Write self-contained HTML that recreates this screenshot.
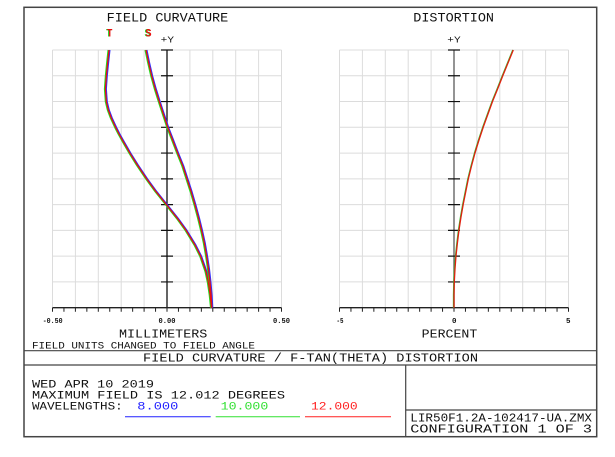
<!DOCTYPE html>
<html><head><meta charset="utf-8"><style>
html,body{margin:0;padding:0;background:#fff;}
svg{display:block;}
text{font-family:"Liberation Mono","DejaVu Sans Mono",monospace;fill:#111;}
</style></head><body>
<svg width="615" height="457" viewBox="0 0 615 457" xmlns="http://www.w3.org/2000/svg">
<rect x="0" y="0" width="615" height="457" fill="#fff"/>
<!-- outer frame -->
<rect x="24" y="7.3" width="572.7" height="429.4" fill="none" stroke="#444" stroke-width="1.5"/>
<line x1="24" y1="350.7" x2="596.7" y2="350.7" stroke="#444" stroke-width="1.2"/>
<line x1="24" y1="365" x2="596.7" y2="365" stroke="#444" stroke-width="1.2"/>
<line x1="405.7" y1="365" x2="405.7" y2="436.7" stroke="#444" stroke-width="1.2"/>
<line x1="405.7" y1="410" x2="596.7" y2="410" stroke="#444" stroke-width="1.2"/>

<!-- left grid -->
<path d="M52.5 50V307.7M75.4 50V307.7M98.3 50V307.7M121.2 50V307.7M144.1 50V307.7M189.9 50V307.7M212.8 50V307.7M235.7 50V307.7M258.6 50V307.7M281.5 50V307.7
M52.5 50H281.5M52.5 75.77H281.5M52.5 101.54H281.5M52.5 127.31H281.5M52.5 153.08H281.5M52.5 178.85H281.5M52.5 204.62H281.5M52.5 230.39H281.5M52.5 256.16H281.5M52.5 281.93H281.5" stroke="#dcdcdc" stroke-width="1" fill="none"/>
<!-- right grid -->
<path d="M339.5 50V307.7M362.4 50V307.7M385.3 50V307.7M408.2 50V307.7M431.1 50V307.7M476.9 50V307.7M499.8 50V307.7M522.7 50V307.7M545.6 50V307.7M568.5 50V307.7
M339.5 50H568.5M339.5 75.77H568.5M339.5 101.54H568.5M339.5 127.31H568.5M339.5 153.08H568.5M339.5 178.85H568.5M339.5 204.62H568.5M339.5 230.39H568.5M339.5 256.16H568.5M339.5 281.93H568.5" stroke="#dcdcdc" stroke-width="1" fill="none"/>

<!-- left axes -->
<line x1="167" y1="50" x2="167" y2="307.7" stroke="#111" stroke-width="1.3"/>
<path d="M161 50H173M161 75.77H173M161 101.54H173M161 127.31H173M161 153.08H173M161 178.85H173M161 204.62H173M161 230.39H173M161 256.16H173M161 281.93H173" stroke="#111" stroke-width="1.2"/>
<line x1="52.5" y1="307.7" x2="281.5" y2="307.7" stroke="#222" stroke-width="1.3"/>
<path d="M52.5 307.7v4M63.95 307.7v4M75.4 307.7v4M86.85 307.7v4M98.3 307.7v4M109.75 307.7v4M121.2 307.7v4M132.65 307.7v4M144.1 307.7v4M155.55 307.7v4M167 307.7v4M178.45 307.7v4M189.9 307.7v4M201.35 307.7v4M212.8 307.7v4M224.25 307.7v4M235.7 307.7v4M247.15 307.7v4M258.6 307.7v4M270.05 307.7v4M281.5 307.7v4" stroke="#222" stroke-width="1"/>

<!-- right axes -->
<line x1="454" y1="50" x2="454" y2="307.7" stroke="#666" stroke-width="1.4"/>
<path d="M448 50H460M448 75.77H460M448 101.54H460M448 127.31H460M448 153.08H460M448 178.85H460M448 204.62H460M448 230.39H460M448 256.16H460M448 281.93H460" stroke="#111" stroke-width="1.2"/>
<line x1="339.5" y1="307.7" x2="568.5" y2="307.7" stroke="#222" stroke-width="1.3"/>
<path d="M339.5 307.7v4M350.95 307.7v4M362.4 307.7v4M373.85 307.7v4M385.3 307.7v4M396.75 307.7v4M408.2 307.7v4M419.65 307.7v4M431.1 307.7v4M442.55 307.7v4M454 307.7v4M465.45 307.7v4M476.9 307.7v4M488.35 307.7v4M499.8 307.7v4M511.25 307.7v4M522.7 307.7v4M534.15 307.7v4M545.6 307.7v4M557.05 307.7v4M568.5 307.7v4" stroke="#222" stroke-width="1"/>

<!-- field curvature curves -->
<g fill="none" stroke-width="1.25" stroke-linejoin="round">
 <g transform="translate(0.9,0)" stroke="#3030ff">
  <path d="M109 50L107.6 63L106.3 76L105.4 89L106.3 101.7L108.3 110L111.3 118L115.6 127.3L119 134L123.3 141.7L130 153.3L137.3 165L146.7 179L156 191.7L166.7 205L177.3 218.3L186 230.3L195 245L200.7 256.3L206 271.7L208.3 282.3L210.2 295L211.5 307.7"/>
  <path d="M146 50L148.7 63L151.7 76L155.3 89L159.3 101.7L163.3 114L167.7 127.3L172.6 140L177.7 153.3L182.8 166L187 179L191.2 192L195 205L198.5 218L201.5 230.3L204.3 243L206.6 256.3L208.5 269L210 282.3L211.1 295L211.8 307.7"/>
 </g>
 <g transform="translate(-0.9,0)" stroke="#20e020">
  <path d="M109 50L107.6 63L106.3 76L105.4 89L106.3 101.7L108.3 110L111.3 118L115.6 127.3L119 134L123.3 141.7L130 153.3L137.3 165L146.7 179L156 191.7L166.7 205L177.3 218.3L186 230.3L195 245L200.7 256.3L206 271.7L208.3 282.3L210.2 295L211.5 307.7"/>
  <path d="M146 50L148.7 63L151.7 76L155.3 89L159.3 101.7L163.3 114L167.7 127.3L172.6 140L177.7 153.3L182.8 166L187 179L191.2 192L195 205L198.5 218L201.5 230.3L204.3 243L206.6 256.3L208.5 269L210 282.3L211.1 295L211.8 307.7"/>
 </g>
 <g stroke="#e81010">
  <path d="M109 50L107.6 63L106.3 76L105.4 89L106.3 101.7L108.3 110L111.3 118L115.6 127.3L119 134L123.3 141.7L130 153.3L137.3 165L146.7 179L156 191.7L166.7 205L177.3 218.3L186 230.3L195 245L200.7 256.3L206 271.7L208.3 282.3L210.2 295L211.5 307.7"/>
  <path d="M146 50L148.7 63L151.7 76L155.3 89L159.3 101.7L163.3 114L167.7 127.3L172.6 140L177.7 153.3L182.8 166L187 179L191.2 192L195 205L198.5 218L201.5 230.3L204.3 243L206.6 256.3L208.5 269L210 282.3L211.1 295L211.8 307.7"/>
 </g>
</g>

<!-- distortion curve -->
<g fill="none" stroke-width="1.3" stroke-linejoin="round">
 <path transform="translate(-0.5,0)" stroke="#30c030" d="M513.3 50L508 63L502.7 76L497.6 89L492.7 101L488 114L483.3 127L479 140L475 153L471.5 166L468.3 179L465.7 192L463.3 204L461 217L459 230L457.4 243L456 256L455 269L454.3 282L454 295L454 307.7"/>
 <path stroke="#e02010" d="M513.3 50L508 63L502.7 76L497.6 89L492.7 101L488 114L483.3 127L479 140L475 153L471.5 166L468.3 179L465.7 192L463.3 204L461 217L459 230L457.4 243L456 256L455 269L454.3 282L454 295L454 307.7"/>
</g>

<!-- titles -->
<text x="106.7" y="21.5" font-size="12.5" textLength="121.6" lengthAdjust="spacingAndGlyphs">FIELD CURVATURE</text>
<text x="413.3" y="21.5" font-size="12.5" textLength="80.7" lengthAdjust="spacingAndGlyphs">DISTORTION</text>
<text x="106" y="36.7" font-size="11" font-weight="bold" textLength="5.5" lengthAdjust="spacingAndGlyphs" style="fill:#20d020">T</text>
<text x="107" y="36.7" font-size="11" font-weight="bold" textLength="5.5" lengthAdjust="spacingAndGlyphs" style="fill:#e81010">T</text>
<text x="144.5" y="36.7" font-size="11" font-weight="bold" textLength="6" lengthAdjust="spacingAndGlyphs" style="fill:#20d020">S</text>
<text x="145.5" y="36.7" font-size="11" font-weight="bold" textLength="6" lengthAdjust="spacingAndGlyphs" style="fill:#e81010">S</text>
<text x="160.7" y="42.7" font-size="9.5" textLength="13.3" lengthAdjust="spacingAndGlyphs">+Y</text>
<text x="447.3" y="42.7" font-size="9.5" textLength="13.3" lengthAdjust="spacingAndGlyphs">+Y</text>

<!-- tick labels -->
<text x="42.7" y="323" font-size="7" font-weight="bold" textLength="20" lengthAdjust="spacingAndGlyphs">-0.50</text>
<text x="158.5" y="323" font-size="7" font-weight="bold" textLength="17" lengthAdjust="spacingAndGlyphs">0.00</text>
<text x="273" y="323" font-size="7" font-weight="bold" textLength="17" lengthAdjust="spacingAndGlyphs">0.50</text>
<text x="336.5" y="323" font-size="7" font-weight="bold" textLength="7" lengthAdjust="spacingAndGlyphs">-5</text>
<text x="452" y="323" font-size="7" font-weight="bold" textLength="4.5" lengthAdjust="spacingAndGlyphs">0</text>
<text x="566" y="323" font-size="7" font-weight="bold" textLength="4.5" lengthAdjust="spacingAndGlyphs">5</text>

<text x="119" y="337.7" font-size="11.5" textLength="88.3" lengthAdjust="spacingAndGlyphs">MILLIMETERS</text>
<text x="421.7" y="337.7" font-size="11.5" textLength="55.6" lengthAdjust="spacingAndGlyphs">PERCENT</text>
<text x="32" y="348.3" font-size="10" textLength="223" lengthAdjust="spacingAndGlyphs">FIELD UNITS CHANGED TO FIELD ANGLE</text>

<text x="143" y="361.7" font-size="11.5" textLength="335" lengthAdjust="spacingAndGlyphs">FIELD CURVATURE / F-TAN(THETA) DISTORTION</text>

<text x="32" y="387.7" font-size="11" textLength="122" lengthAdjust="spacingAndGlyphs">WED APR 10 2019</text>
<text x="32" y="398.3" font-size="11" textLength="253" lengthAdjust="spacingAndGlyphs">MAXIMUM FIELD IS 12.012 DEGREES</text>
<text x="32" y="409.3" font-size="11" textLength="90.7" lengthAdjust="spacingAndGlyphs">WAVELENGTHS:</text>
<text x="137.3" y="409.3" font-size="11" textLength="41" lengthAdjust="spacingAndGlyphs" style="fill:#2020ff">8.000</text>
<text x="220.7" y="409.3" font-size="11" textLength="47.6" lengthAdjust="spacingAndGlyphs" style="fill:#30e030">10.000</text>
<text x="311" y="409.3" font-size="11" textLength="46.7" lengthAdjust="spacingAndGlyphs" style="fill:#ff2020">12.000</text>
<line x1="125" y1="416.7" x2="210.7" y2="416.7" stroke="#2020ff" stroke-width="1"/>
<line x1="215.7" y1="416.7" x2="300" y2="416.7" stroke="#30e030" stroke-width="1"/>
<line x1="305" y1="416.7" x2="391" y2="416.7" stroke="#ff2020" stroke-width="1"/>

<text x="410.3" y="421.7" font-size="11.5" textLength="181.7" lengthAdjust="spacingAndGlyphs">LIR50F1.2A-102417-UA.ZMX</text>
<text x="410.3" y="432.7" font-size="11.5" textLength="181.7" lengthAdjust="spacingAndGlyphs">CONFIGURATION 1 OF 3</text>
</svg>
</body></html>
